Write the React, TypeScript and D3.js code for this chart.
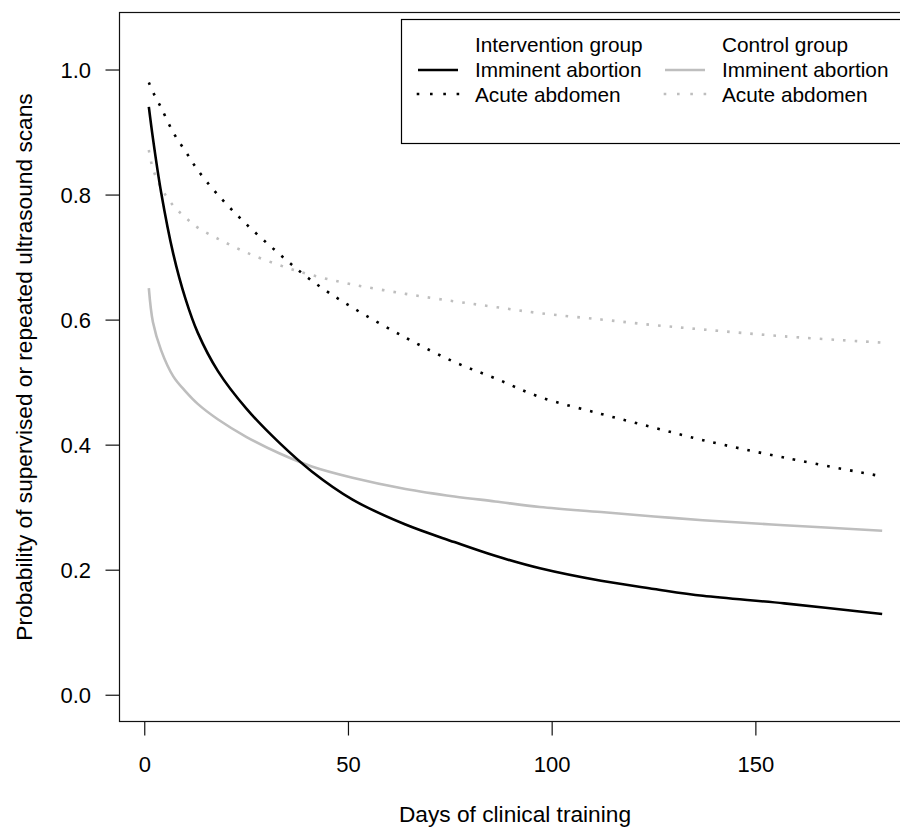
import * as React from "react";
import * as d3 from "d3";

const days = [1, 2, 4, 7, 10, 13, 18, 25, 33, 41, 51, 64, 76, 86, 97, 112, 125, 137, 157, 181];

const interventionAbortion = [0.941, 0.891, 0.805, 0.706, 0.634, 0.58, 0.518, 0.458, 0.404, 0.358, 0.313, 0.273, 0.245, 0.223, 0.203, 0.183, 0.17, 0.159, 0.147, 0.13];
const controlAbortion = [0.651, 0.597, 0.552, 0.51, 0.486, 0.466, 0.441, 0.413, 0.387, 0.366, 0.348, 0.33, 0.318, 0.31, 0.301, 0.293, 0.286, 0.28, 0.272, 0.263];
const interventionAbdomen = [0.98, 0.965, 0.94, 0.9, 0.87, 0.84, 0.8, 0.753, 0.706, 0.663, 0.62, 0.572, 0.533, 0.507, 0.477, 0.45, 0.428, 0.408, 0.38, 0.35];
const controlAbdomen = [0.872, 0.842, 0.812, 0.783, 0.764, 0.748, 0.73, 0.708, 0.688, 0.672, 0.657, 0.642, 0.63, 0.621, 0.611, 0.601, 0.592, 0.585, 0.574, 0.564];

const xTicks = [0, 50, 100, 150];
const yTicks = [0, 0.2, 0.4, 0.6, 0.8, 1.0];

const BLACK = "#000";
const GREY = "#bebebe";
const FONT = "'Liberation Sans', Arial, Helvetica, sans-serif";
const TICK_FS = 22;
const TITLE_FS = 22.7;
const LEGEND_FS = 20.8;

export default function App() {
  const margin = {left: 119.5, right: 911.5, top: 12.5, bottom: 721.5};

  // R style 4% extension of the data range
  const xPad = 0.04 * (d3.max(days)! - d3.min(days)!);
  const xScale = d3.scaleLinear()
    .domain([d3.min(days)! - xPad, d3.max(days)! + xPad])
    .range([margin.left, margin.right]);
  const yScale = d3.scaleLinear()
    .domain([-0.042, 1.092])
    .range([margin.bottom, margin.top]);

  const line = d3.line<number>()
    .x((_, i) => xScale(days[i]))
    .y(d => yScale(d))
    .curve(d3.curveCatmullRom.alpha(0.5));

  const series = [
    {values: controlAbdomen, color: GREY, dotted: true},
    {values: controlAbortion, color: GREY, dotted: false},
    {values: interventionAbdomen, color: BLACK, dotted: true},
    {values: interventionAbortion, color: BLACK, dotted: false},
  ];

  const legendCols = [
    {x: 418, color: BLACK, head: "Intervention group"},
    {x: 665, color: GREY, head: "Control group"},
  ];

  return (
    <svg width={900} height={830} style={{position: "absolute", left: 0, top: 0, background: "#fff"}}
         fontFamily={FONT} fontSize={TICK_FS}>
      <defs>
        <clipPath id="plot-clip">
          <rect x={margin.left} y={margin.top} width={margin.right - margin.left} height={margin.bottom - margin.top}/>
        </clipPath>
      </defs>

      {/* curves */}
      <g clipPath="url(#plot-clip)">
        {series.map((s, i) => (
          <path key={i} d={line(s.values) || ""} fill="none" stroke={s.color}
                strokeWidth={2.6}
                strokeDasharray={s.dotted ? "2.6 9" : undefined}/>
        ))}
      </g>

      {/* legend */}
      <rect x={401.5} y={19.5} width={510} height={124} fill="#fff" stroke="#000" strokeWidth={1.2}/>
      <g fontSize={LEGEND_FS}>
        {legendCols.map((c, i) => (
          <g key={i}>
            <text x={c.x + 57} y={52}>{c.head}</text>
            <line x1={c.x} x2={c.x + 40} y1={70} y2={70} stroke={c.color} strokeWidth={2.6}/>
            <text x={c.x + 57} y={77}>Imminent abortion</text>
            <line x1={c.x - 1.3} x2={c.x + 42} y1={94} y2={94} stroke={c.color} strokeWidth={2.6}
                  strokeDasharray="2.6 10.7"/>
            <text x={c.x + 57} y={101.5}>Acute abdomen</text>
          </g>
        ))}
      </g>

      {/* box */}
      <rect x={margin.left} y={margin.top} width={margin.right - margin.left} height={margin.bottom - margin.top}
            fill="none" stroke="#111" strokeWidth={1.2}/>

      {/* x axis */}
      {xTicks.map(t => (
        <g key={t}>
          <line x1={xScale(t)} x2={xScale(t)} y1={margin.bottom} y2={margin.bottom + 14} stroke="#111" strokeWidth={1.2}/>
          <text x={xScale(t)} y={772} textAnchor="middle">{t}</text>
        </g>
      ))}
      <text x={515} y={822} textAnchor="middle" fontSize={TITLE_FS}>Days of clinical training</text>

      {/* y axis */}
      {yTicks.map(t => (
        <g key={t}>
          <line x1={margin.left - 14} x2={margin.left} y1={yScale(t)} y2={yScale(t)} stroke="#111" strokeWidth={1.2}/>
          <text x={91} y={yScale(t)} dy="0.36em" textAnchor="end">{d3.format(".1f")(t)}</text>
        </g>
      ))}
      <text transform={`translate(32,${(margin.top + margin.bottom) / 2}) rotate(-90)`} textAnchor="middle"
            fontSize={TITLE_FS}>
        Probability of supervised or repeated ultrasound scans
      </text>
    </svg>
  );
}
